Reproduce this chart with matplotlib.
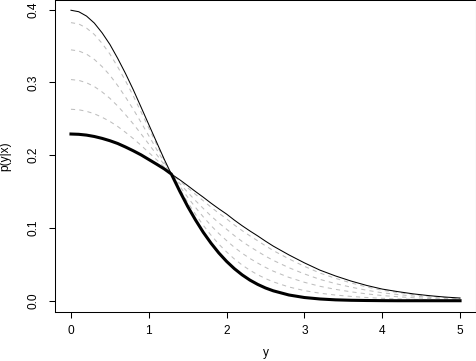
import matplotlib
matplotlib.use("Agg")
import matplotlib.pyplot as plt
import matplotlib as mpl

mpl.rc('font', size=8.6, family=['Liberation Sans', 'DejaVu Sans'])

# values
y = [0.0, 0.1, 0.2, 0.3, 0.4, 0.5, 0.6, 0.7, 0.8, 0.9, 1.0, 1.1, 1.2, 1.29,
     1.4, 1.5, 1.6, 1.7, 1.8, 1.9, 2.0, 2.1, 2.2, 2.3, 2.4, 2.5, 2.6, 2.8,
     3.0, 3.2, 3.4, 3.6, 3.8, 4.0, 4.2, 4.4, 4.6, 4.8, 5.0]

p_thin = [0.399, 0.397, 0.391, 0.3814, 0.368, 0.3521, 0.333, 0.3123, 0.290, 0.2661,
          0.242, 0.2179, 0.194, 0.174, 0.166, 0.1581, 0.150, 0.1422, 0.134, 0.1263,
          0.119, 0.1107, 0.103, 0.0958, 0.089, 0.0818, 0.075, 0.063, 0.052, 0.042,
          0.034, 0.027, 0.021, 0.016, 0.0125, 0.0094, 0.0070, 0.0051, 0.0037]

p_thick = [0.229, 0.2286, 0.2275, 0.2256, 0.223, 0.2198, 0.216, 0.2112, 0.206, 0.2004,
           0.194, 0.1876, 0.181, 0.174, 0.150, 0.1295, 0.111, 0.0940, 0.079, 0.0656,
           0.054, 0.0440, 0.0355, 0.0283, 0.0224, 0.0175, 0.0136, 0.0079, 0.0044, 0.0024,
           0.0012, 0.0006, 0.0003, 0.0001, 0.0, 0.0, 0.0, 0.0, 0.0]

p_dash1 = [0.382, 0.3802, 0.3745, 0.3658, 0.3535, 0.3389, 0.3213, 0.3022, 0.2816, 0.2595,
           0.2372, 0.2149, 0.1927, 0.174, 0.1644, 0.1552, 0.1461, 0.1374, 0.1285, 0.1202,
           0.1125, 0.1040, 0.0963, 0.0891, 0.0823, 0.0754, 0.0689, 0.0575, 0.0472, 0.0380,
           0.0307, 0.0244, 0.0189, 0.0144, 0.0113, 0.0085, 0.0063, 0.0046, 0.0033]

p_dash2 = [0.3446, 0.3431, 0.3387, 0.3315, 0.3216, 0.3098, 0.2956, 0.2799, 0.2631, 0.2451,
           0.2266, 0.2082, 0.1898, 0.174, 0.1609, 0.1489, 0.1375, 0.1268, 0.1164, 0.1069,
           0.0982, 0.0894, 0.0814, 0.0742, 0.0677, 0.0612, 0.0554, 0.0454, 0.0368, 0.0293,
           0.0235, 0.0186, 0.0144, 0.0109, 0.0085, 0.0064, 0.0048, 0.0035, 0.0025]

p_dash3 = [0.3038, 0.3027, 0.2994, 0.2942, 0.2868, 0.2780, 0.2675, 0.2557, 0.2430, 0.2293,
           0.2151, 0.2009, 0.1867, 0.174, 0.1570, 0.1421, 0.1282, 0.1152, 0.1032, 0.0923,
           0.0826, 0.0733, 0.0652, 0.0580, 0.0517, 0.0458, 0.0406, 0.0321, 0.0253, 0.0198,
           0.0156, 0.0122, 0.0094, 0.0071, 0.0055, 0.0041, 0.0031, 0.0022, 0.0016]

p_dash4 = [0.263, 0.2623, 0.2602, 0.2568, 0.252, 0.2463, 0.2394, 0.2314, 0.2228, 0.2135,
           0.2036, 0.1937, 0.1836, 0.174, 0.1532, 0.1352, 0.1188, 0.1036, 0.090, 0.0777,
           0.067, 0.0573, 0.049, 0.0418, 0.0357, 0.0304, 0.0259, 0.0189, 0.0139, 0.0103,
           0.0078, 0.0059, 0.0044, 0.0033, 0.0025, 0.0019, 0.0014, 0.0010, 0.0007]

xticks = [0, 1, 2, 3, 4, 5]
yticks = [0.0, 0.1, 0.2, 0.3, 0.4]

fig = plt.figure(figsize=(4.76, 3.61), dpi=100)
ax = fig.add_axes([0.1164, 0.1349, 0.8828, 0.8641])

for d in [p_dash1, p_dash2, p_dash3, p_dash4]:
    ax.plot(y, d, color='#bebebe', lw=0.75, linestyle=(0, (4, 4)))
ax.plot(y, p_thin, color='black', lw=0.75)
ax.plot(y, p_thick, color='black', lw=2.2)

ax.set_xlim(-0.2, 5.2)
ax.set_ylim(-0.0159, 0.4126)
ax.set_xticks(xticks)
ax.set_xticklabels([str(t) for t in xticks])
ax.set_yticks(yticks)
ax.set_yticklabels(['%.1f' % t for t in yticks])
for s in ax.spines.values():
    s.set_linewidth(0.75)
ax.tick_params(axis='both', direction='out', length=4.3, width=0.75)
ax.tick_params(axis='x', pad=4.7)
ax.tick_params(axis='y', pad=7)
for lab in ax.get_yticklabels():
    lab.set_rotation(90)
    lab.set_va('center')

ax.set_xlabel('y')
ax.set_ylabel('p(y|x)')
ax.xaxis.set_label_coords(0.5, -0.112)
ax.yaxis.set_label_coords(-0.105, 0.5)

fig.savefig('out.png', dpi=100)
